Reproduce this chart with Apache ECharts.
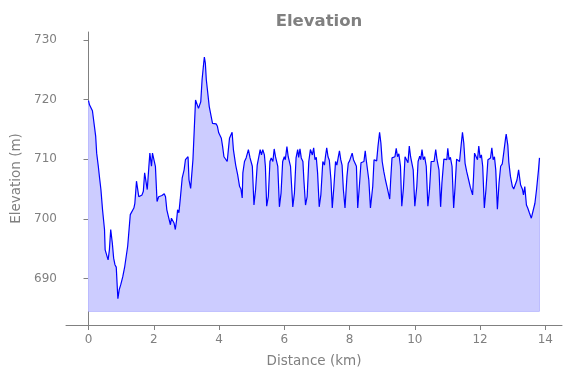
<!DOCTYPE html>
<html>
<head>
<meta charset="utf-8">
<script src="https://cdn.jsdelivr.net/npm/echarts@6/dist/echarts.min.js"></script>
<style>
  html, body { margin: 0; padding: 0; background: #fff; }
  #main { width: 571px; height: 378px; }
</style>
</head>
<body>
<div id="main"></div>
<script>
// distance along the route (km)
const distKm = [
  0.00,0.03,0.08,0.12,0.16,0.22,0.25,0.27,0.30,0.34,
  0.38,0.43,0.49,0.51,0.55,0.60,0.64,0.68,0.73,0.77,
  0.81,0.85,0.88,0.90,0.94,0.99,1.05,1.11,1.15,1.20,
  1.28,1.34,1.39,1.42,1.47,1.50,1.54,1.58,1.64,1.68,
  1.72,1.75,1.80,1.85,1.88,1.93,1.96,2.01,2.05,2.10,
  2.15,2.25,2.32,2.36,2.40,2.46,2.51,2.54,2.59,2.62,
  2.66,2.70,2.73,2.77,2.81,2.87,2.93,2.97,3.01,3.05,
  3.08,3.13,3.16,3.20,3.24,3.28,3.32,3.37,3.41,3.44,
  3.48,3.53,3.55,3.58,3.61,3.66,3.70,3.74,3.80,3.84,
  3.91,3.95,3.99,4.03,4.07,4.11,4.15,4.20,4.25,4.32,
  4.36,4.40,4.44,4.51,4.57,4.63,4.67,4.71,4.73,4.78,
  4.83,4.87,4.90,4.95,4.99,5.02,5.07,5.12,5.17,5.23,
  5.26,5.30,5.34,5.39,5.42,5.46,5.51,5.56,5.60,5.65,
  5.69,5.73,5.77,5.80,5.85,5.90,5.95,6.00,6.03,6.08,
  6.12,6.16,6.19,6.26,6.31,6.36,6.41,6.44,6.48,6.52,
  6.57,6.60,6.65,6.70,6.75,6.80,6.86,6.90,6.94,6.98,
  7.02,7.07,7.12,7.18,7.23,7.26,7.30,7.34,7.38,7.43,
  7.47,7.52,7.57,7.61,7.65,7.69,7.73,7.77,7.81,7.86,
  7.92,7.96,8.00,8.04,8.08,8.12,8.16,8.21,8.25,8.30,
  8.35,8.40,8.44,8.48,8.51,8.55,8.59,8.64,8.71,8.75,
  8.79,8.83,8.87,8.92,8.96,9.00,9.05,9.10,9.15,9.19,
  9.23,9.26,9.30,9.35,9.39,9.43,9.47,9.51,9.56,9.60,
  9.65,9.70,9.75,9.79,9.83,9.87,9.91,9.95,10.00,10.06,
  10.10,10.15,10.18,10.22,10.26,10.30,10.35,10.40,10.45,10.50,
  10.55,10.59,10.64,10.68,10.71,10.74,10.79,10.83,10.89,10.94,
  10.98,11.01,11.05,11.09,11.14,11.19,11.23,11.28,11.32,11.37,
  11.42,11.46,11.50,11.54,11.59,11.65,11.70,11.74,11.77,11.80,
  11.83,11.87,11.92,11.96,12.00,12.04,12.08,12.13,12.18,12.24,
  12.29,12.32,12.36,12.40,12.44,12.48,12.53,12.58,12.63,12.68,
  12.73,12.78,12.80,12.85,12.88,12.93,12.99,13.03,13.08,13.13,
  13.18,13.21,13.24,13.30,13.33,13.37,13.40,13.42,13.46,13.51,
  13.57,13.60,13.63,13.68,13.73,13.79,13.82
];

// elevation (m)
const elevM = [
  719.8,719.1,719.1,718.1,718.1,713.8,711.0,711.0,708.8,706.8,
  704.9,701.5,698.2,694.8,694.5,693.1,694.8,698.2,695.9,693.4,
  692.3,691.9,688.7,686.6,688.1,689.0,690.3,692.0,692.3,695.4,
  700.7,700.8,701.8,702.6,706.3,706.3,703.7,704.0,704.0,704.6,
  707.7,707.7,704.9,708.8,711.0,708.8,711.0,711.3,708.8,702.9,
  703.7,703.9,704.2,703.7,701.5,700.1,699.0,700.1,700.4,699.3,
  698.2,699.8,701.5,701.0,703.2,706.8,708.2,709.9,709.6,710.4,
  706.5,705.1,705.4,709.9,714.9,719.9,720.0,718.5,718.3,719.6,
  723.3,726.1,727.1,726.1,723.3,720.8,718.8,718.5,716.0,715.7,
  715.9,715.5,714.4,714.1,713.5,712.1,710.4,710.2,709.6,713.5,
  713.6,714.5,711.6,709.0,707.4,705.4,705.0,703.5,707.7,709.6,
  710.2,709.9,711.6,710.2,710.4,708.8,702.3,704.9,709.0,710.7,
  711.6,710.7,711.6,710.7,708.8,702.1,703.7,709.6,710.2,709.6,
  711.7,710.4,710.7,708.8,702.0,704.3,709.6,710.4,709.9,712.1,
  710.4,710.7,708.8,702.0,704.3,710.2,711.6,710.3,711.7,710.2,
  709.6,706.5,702.3,703.7,709.6,711.6,710.7,711.9,709.9,710.3,
  707.7,702.0,704.0,709.6,709.0,710.4,711.9,710.4,709.8,706.5,
  701.8,705.4,709.6,709.0,710.2,711.4,709.9,709.0,704.9,701.8,
  707.1,709.3,709.7,709.6,711.0,709.9,710.2,708.8,701.8,705.4,
  709.4,709.7,709.6,711.4,709.9,710.2,706.5,701.8,705.4,709.9,
  710.2,709.7,712.1,714.5,712.7,709.6,707.9,706.5,705.3,705.0,
  703.3,706.5,710.2,709.9,710.4,711.8,710.4,710.9,708.8,702.1,
  705.1,710.4,710.2,709.4,712.2,710.4,710.7,708.2,702.1,705.4,
  709.6,710.5,709.9,711.6,709.9,710.4,708.8,702.1,704.9,709.6,
  709.9,709.6,711.6,709.9,710.2,708.2,702.0,706.0,710.0,710.2,
  709.9,711.8,709.9,710.3,708.8,701.8,705.1,710.0,710.2,709.6,
  712.4,714.5,712.7,709.3,707.9,706.5,705.3,705.0,704.0,707.1,
  711.0,711.1,709.9,712.2,710.2,710.7,708.8,701.8,704.9,709.9,
  709.6,710.2,711.9,709.9,710.4,708.2,701.6,706.0,708.8,709.2,
  711.3,713.5,714.2,712.3,709.5,707.1,705.4,705.0,705.1,706.5,
  708.2,708.3,705.7,704.9,704.0,705.4,705.5,702.3,701.8,701.0,
  700.1,699.8,700.4,702.6,704.9,708.2,710.2
];

const fillBase = 684.5; // bottom of the shaded area
const xTicks = [0, 2, 4, 6, 8, 10, 12, 14];
const yTicks = [690, 700, 710, 720, 730];

const grey = '#808080';
const font = 'DejaVu Sans';

const profile = distKm.map((d, i) => [d, elevM[i]]);
const last = distKm.length - 1;
// outline of the filled polygon (left edge, bottom, right edge)
const fillEdge = [
  [distKm[0], elevM[0]],
  [distKm[0], fillBase],
  [distKm[last], fillBase],
  [distKm[last], elevM[last]]
];

const option = {
  animation: false,
  title: {
    text: 'Elevation',
    left: 314,
    top: 8,
    textAlign: 'center',
    textStyle: { color: grey, fontFamily: font, fontWeight: 'bold', fontSize: 16.5 }
  },
  grid: { left: 66, right: 9, top: 32, bottom: 53 },
  xAxis: {
    type: 'value',
    min: -0.69,
    max: 14.51,
    name: 'Distance (km)',
    nameLocation: 'middle',
    nameGap: 29,
    nameTextStyle: { color: grey, fontFamily: font, fontSize: 13.5 },
    axisLine: { show: true, lineStyle: { color: grey, width: 1 } },
    axisTick: { show: true, length: 5, customValues: xTicks, lineStyle: { color: grey } },
    axisLabel: { color: grey, fontFamily: font, fontSize: 12, margin: 9, customValues: xTicks },
    splitLine: { show: false }
  },
  yAxis: {
    type: 'value',
    min: 682.2,
    max: 731.3,
    name: 'Elevation (m)',
    nameLocation: 'middle',
    nameGap: 43,
    nameTextStyle: { color: grey, fontFamily: font, fontSize: 13.5 },
    axisLine: { show: true, lineStyle: { color: grey, width: 1 } },
    axisTick: { show: true, length: 5, customValues: yTicks, lineStyle: { color: grey } },
    axisLabel: { color: grey, fontFamily: font, fontSize: 12, margin: 9, customValues: yTicks },
    splitLine: { show: false }
  },
  series: [
    {
      type: 'line',
      data: profile,
      showSymbol: false,
      z: 3,
      lineStyle: { color: '#0000ff', width: 1.2 },
      areaStyle: { color: '#ccccff', opacity: 1, origin: fillBase }
    },
    {
      type: 'line',
      data: fillEdge,
      showSymbol: false,
      z: 2,
      lineStyle: { color: '#adadff', width: 1 }
    }
  ]
};

const chart = echarts.init(document.getElementById('main'));
chart.setOption(option);
</script>
</body>
</html>
